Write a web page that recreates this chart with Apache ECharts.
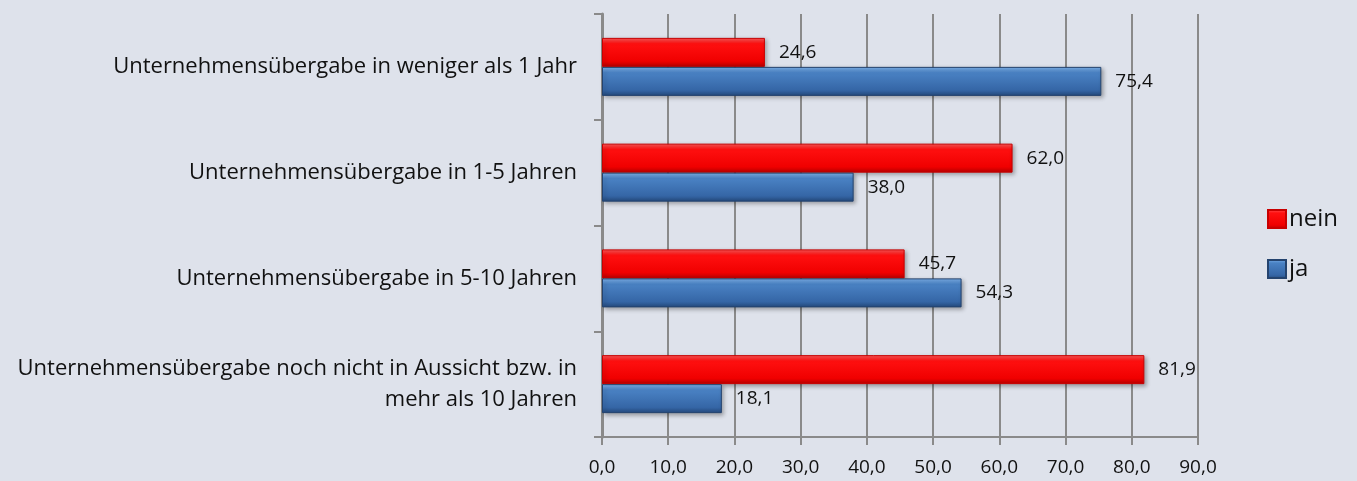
<!DOCTYPE html>
<html>
<head>
<meta charset="utf-8">
<script src="https://cdn.jsdelivr.net/npm/echarts@6/dist/echarts.min.js"></script>
<style>
  html, body { margin: 0; padding: 0; background: #dee2eb; }
  #chart { width: 1357px; height: 481px; }
</style>
</head>
<body>
<div id="chart"></div>
<script>
// Kategorien (von oben nach unten)
const categories = [
  'Unternehmensübergabe in weniger als 1 Jahr',
  'Unternehmensübergabe in 1-5 Jahren',
  'Unternehmensübergabe in 5-10 Jahren',
  'Unternehmensübergabe noch nicht in Aussicht bzw. in\nmehr als 10 Jahren'
]
const neinValues = [24.6, 62.0, 45.7, 81.9]
const jaValues = [75.4, 38.0, 54.3, 18.1]

const fmt = v => v.toFixed(1).replace('.', ',')

const redFill = new echarts.graphic.LinearGradient(0, 0, 0, 1, [
  {offset: 0, color: '#ff5a5a'},
  {offset: 0.2, color: '#ff1010'},
  {offset: 0.8, color: '#f00000'},
  {offset: 1, color: '#b80000'}
])
const blueFill = new echarts.graphic.LinearGradient(0, 0, 0, 1, [
  {offset: 0, color: '#7fb4ee'},
  {offset: 0.2, color: '#4a82c4'},
  {offset: 0.8, color: '#3566a6'},
  {offset: 1, color: '#24497c'}
])

const chart = echarts.init(document.getElementById('chart'))

const labelCfg = {
  show: true,
  position: 'right',
  distance: 14,
  color: '#111',
  fontFamily: 'Open Sans',
  fontSize: 19,
  formatter: p => fmt(p.value)
}

chart.setOption({
  backgroundColor: '#dee2eb',
  animation: false,
  textStyle: {fontFamily: 'Open Sans'},
  grid: {left: 602, right: 159, top: 14, bottom: 44, outerBoundsMode: 'none'},
  legend: {
    orient: 'vertical',
    left: 1262,
    top: 202,
    itemWidth: 18,
    itemHeight: 18,
    itemGap: 26,
    icon: 'rect',
    textStyle: {fontSize: 24, color: '#111', fontFamily: 'Open Sans', padding: [0, 0, 0, -2]},
    data: ['nein', 'ja']
  },
  xAxis: {
    type: 'value',
    min: 0,
    max: 90,
    interval: 10,
    axisLine: {show: true, lineStyle: {color: '#8a8a8a', width: 2}},
    axisTick: {show: true, length: 8, lineStyle: {color: '#8a8a8a', width: 2}},
    axisLabel: {color: '#111', fontSize: 19, lineHeight: 19, fontFamily: 'Open Sans', margin: 21,
      formatter: v => fmt(v)},
    splitLine: {show: true, lineStyle: {color: '#8a8a8a', width: 2}}
  },
  yAxis: {
    type: 'category',
    inverse: true,
    data: categories,
    axisLine: {lineStyle: {color: '#8a8a8a', width: 3}},
    axisTick: {show: true, length: 8, lineStyle: {color: '#8a8a8a', width: 2}},
    axisLabel: {color: '#111', fontSize: 22, margin: 25, align: 'right', lineHeight: 31}
  },
  series: [
    {
      name: 'nein',
      type: 'bar',
      data: neinValues,
      barWidth: 29,
      barGap: '0%',
      itemStyle: {color: redFill, borderColor: '#c80000', borderWidth: 1,
        shadowColor: 'rgba(0,0,0,0.3)', shadowBlur: 4, shadowOffsetX: 2, shadowOffsetY: 2},
      label: labelCfg
    },
    {
      name: 'ja',
      type: 'bar',
      data: jaValues,
      barWidth: 29,
      barGap: '0%',
      itemStyle: {color: blueFill, borderColor: '#24436e', borderWidth: 1,
        shadowColor: 'rgba(0,0,0,0.3)', shadowBlur: 4, shadowOffsetX: 2, shadowOffsetY: 2},
      label: labelCfg
    }
  ]
})
</script>
</body>
</html>
